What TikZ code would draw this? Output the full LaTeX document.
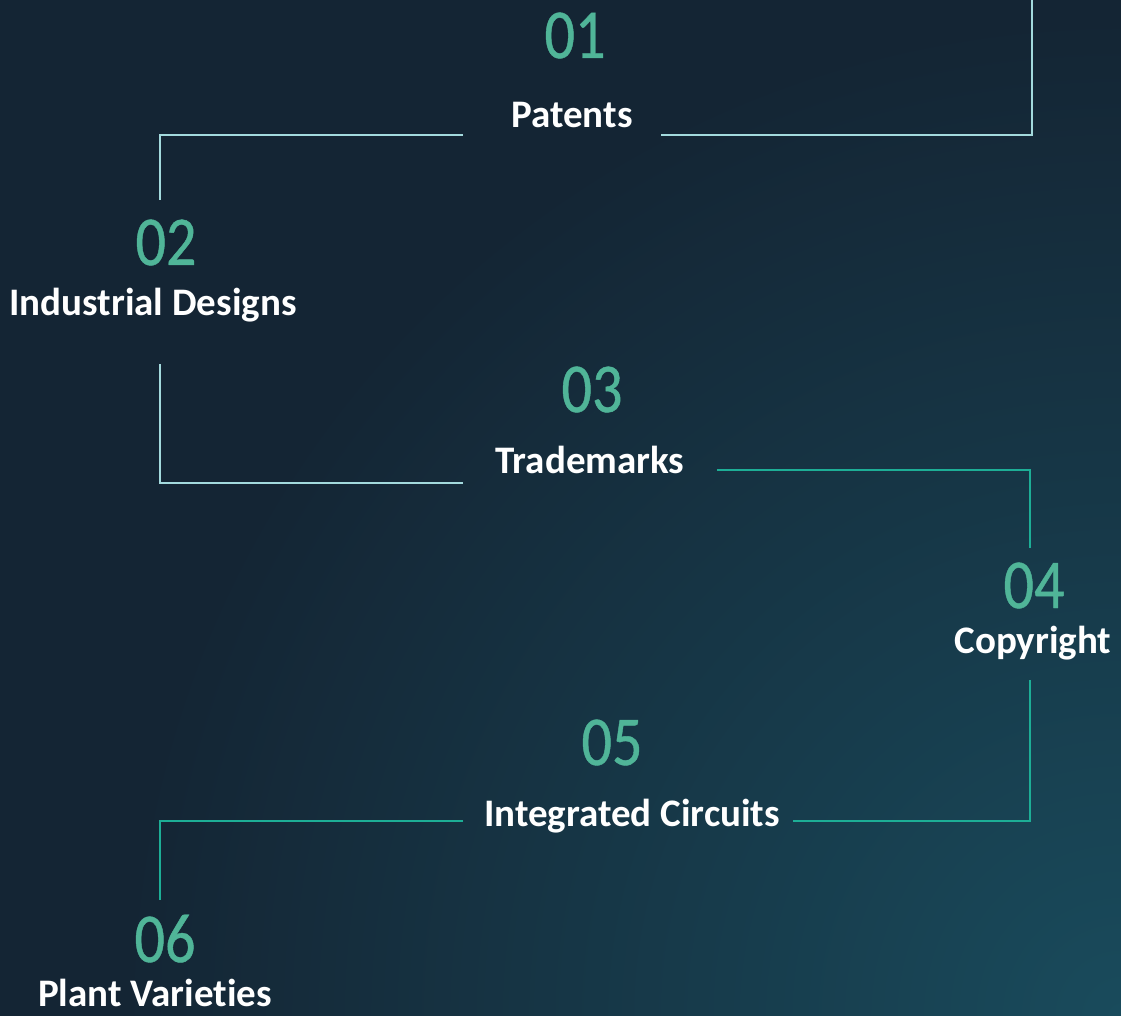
\documentclass[tikz,border=0pt]{standalone}
\usepackage{fontspec}
\setmainfont{Carlito}
\newfontfamily\numfont[FakeStretch=0.86,FakeBold=0.6,Ligatures=NoCommon]{Carlito}
\newfontfamily\labfont[Ligatures=NoCommon]{Carlito}
\definecolor{bgc}{HTML}{142534}
\definecolor{glow}{HTML}{194B5C}
\definecolor{numc}{HTML}{50B598}
\definecolor{lightln}{HTML}{A3DADD}
\definecolor{tealln}{HTML}{1DAE96}
\tikzset{
  num/.style={anchor=base, inner sep=0pt, text=numc, font=\numfont\fontsize{70}{72}\selectfont},
  lab/.style={anchor=base, inner sep=0pt, text=white, font=\labfont\bfseries\fontsize{39}{40}\selectfont},
  lline/.style={draw=lightln, line width=2.2pt},
  tline/.style={draw=tealln, line width=2.2pt},
}
\begin{document}
\begin{tikzpicture}[x=1pt,y=-1pt]
\useasboundingbox (0,0) rectangle (1121,1016);
\fill[bgc] (0,0) rectangle (1121,1016);
\begin{scope}
\clip (0,0) rectangle (1121,1016);
\shade[inner color=glow, outer color=bgc] (1121,1016) circle (1000);
\end{scope}

% numbers
\node[num] (n1) at (575,58) {01};
\node[num] (n2) at (166,265) {02};
\node[num] (n3) at (592,412) {03};
\node[num] (n4) at (1034,608) {04};
\node[num] (n5) at (612,765) {05};
\node[num] (n6) at (165,962) {06};

% labels
\node[lab] (l1) at (572,128) {Patents};
\node[lab] (l2) at (153,315) {Industrial Designs};
\node[lab] (l3) at (590,473) {Trademarks};
\node[lab] (l4) at (1033,653) {Copyright};
\node[lab] (l5) at (632,826) {Integrated Circuits};
\node[lab] (l6) at (155,1006) {Plant Varieties};

% connector end points
\coordinate (a1) at (463,135);
\coordinate (a2) at (160,200);
\coordinate (b1) at (661,135);
\coordinate (b2) at (1032,-5);
\coordinate (c1) at (160,364);
\coordinate (c2) at (463,483);
\coordinate (d1) at (717,470);
\coordinate (d2) at (1030,548);
\coordinate (e1) at (1030,680);
\coordinate (e2) at (793,821);
\coordinate (f1) at (463,821);
\coordinate (f2) at (160,900);

\draw[lline] (a1) -| (a2);
\draw[lline] (b1) -| (b2);
\draw[lline] (c1) |- (c2);
\draw[tline] (d1) -| (d2);
\draw[tline] (e1) |- (e2);
\draw[tline] (f1) -| (f2);
\end{tikzpicture}
\end{document}
